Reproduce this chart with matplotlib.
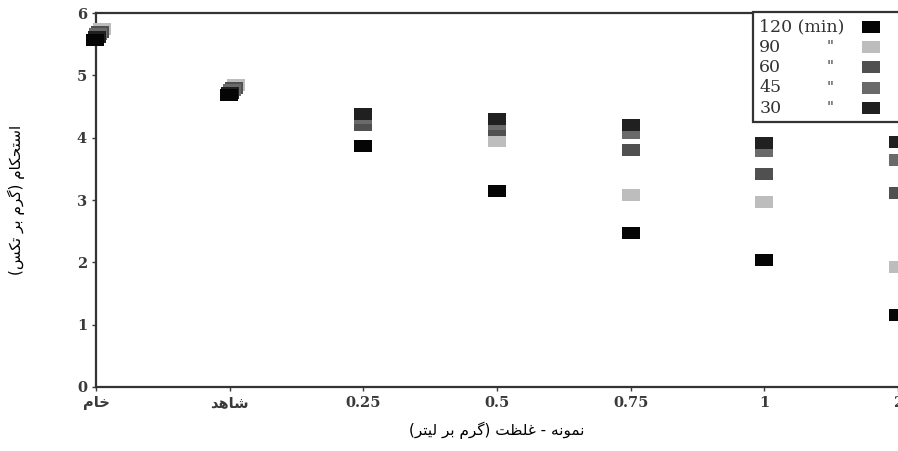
import matplotlib.pyplot as plt
from matplotlib.patches import Rectangle

# داده‌ها
categories = ['خام', 'شاهد', '0.25', '0.5', '0.75', '1', '2']
times = ['120', '90', '60', '45', '30']
strength = {
    '30':  [5.62, 4.72, 4.38, 4.30, 4.20, 3.92, 3.93],
    '45':  [5.66, 4.76, 4.32, 4.22, 4.07, 3.78, 3.65],
    '60':  [5.70, 4.80, 4.20, 4.12, 3.80, 3.42, 3.12],
    '90':  [5.75, 4.85, 4.20, 3.95, 3.08, 2.97, 1.92],
    '120': [5.57, 4.68, 3.87, 3.15, 2.47, 2.03, 1.15],
}
colors = {'120': '#050505', '90': '#bdbdbd', '60': '#505050',
          '45': '#6a6a6a', '30': '#202020'}
# جابه‌جایی کوچک افقی برای دو دسته‌ی اول (نقاط روی هم افتاده)
shift = {'120': -0.005, '30': 0.005, '45': 0.015, '60': 0.03, '90': 0.045}

y_label = 'استحکام (گرم بر تکس)'
x_label = 'نمونه - غلظت (گرم بر لیتر)'

# شکل‌دهی ساده حروف فارسی (matplotlib خودش این کار را نمی‌کند)
FORMS = {
    'ا': ('\uFE8D', '\uFE8E', None, None),
    'ب': ('\uFE8F', '\uFE90', '\uFE91', '\uFE92'),
    'ت': ('\uFE95', '\uFE96', '\uFE97', '\uFE98'),
    'ح': ('\uFEA1', '\uFEA2', '\uFEA3', '\uFEA4'),
    'خ': ('\uFEA5', '\uFEA6', '\uFEA7', '\uFEA8'),
    'د': ('\uFEA9', '\uFEAA', None, None),
    'ر': ('\uFEAD', '\uFEAE', None, None),
    'س': ('\uFEB1', '\uFEB2', '\uFEB3', '\uFEB4'),
    'ش': ('\uFEB5', '\uFEB6', '\uFEB7', '\uFEB8'),
    'ظ': ('\uFEC5', '\uFEC6', '\uFEC7', '\uFEC8'),
    'غ': ('\uFECD', '\uFECE', '\uFECF', '\uFED0'),
    'ل': ('\uFEDD', '\uFEDE', '\uFEDF', '\uFEE0'),
    'م': ('\uFEE1', '\uFEE2', '\uFEE3', '\uFEE4'),
    'ن': ('\uFEE5', '\uFEE6', '\uFEE7', '\uFEE8'),
    'ه': ('\uFEE9', '\uFEEA', '\uFEEB', '\uFEEC'),
    'و': ('\uFEED', '\uFEEE', None, None),
    'ک': ('\uFB8E', '\uFB8F', '\uFB90', '\uFB91'),
    'گ': ('\uFB92', '\uFB93', '\uFB94', '\uFB95'),
    'ی': ('\uFBFC', '\uFBFD', '\uFBFE', '\uFBFF'),
}


def fa(text):
    out = []
    for i, ch in enumerate(text):
        if ch not in FORMS:
            out.append({'(': ')', ')': '('}.get(ch, ch))
            continue
        prev = text[i - 1] if i > 0 else ''
        nxt = text[i + 1] if i + 1 < len(text) else ''
        join_prev = prev in FORMS and FORMS[prev][2] is not None
        join_next = FORMS[ch][2] is not None and nxt in FORMS
        iso, fin, ini, med = FORMS[ch]
        if join_prev and join_next:
            out.append(med)
        elif join_prev:
            out.append(fin)
        elif join_next:
            out.append(ini)
        else:
            out.append(iso)
    return ''.join(reversed(out))


plt.rcParams['font.family'] = ['DejaVu Serif', 'DejaVu Sans']

fig = plt.figure(figsize=(8.98, 4.51), dpi=100)
ax = fig.add_axes([0.107, 0.142, 0.893, 0.829])

rect = [(-1.45, -1), (1.45, -1), (1.45, 1), (-1.45, 1)]
xs = list(range(len(categories)))
for t in ['90', '60', '45', '30', '120']:
    px = [x + shift[t] if x < 2 else x for x in xs]
    ax.plot(px, strength[t], linestyle='none', marker=rect, markersize=12.5,
            color=colors[t], markeredgewidth=0, clip_on=False, zorder=3)

ax.set_xlim(0, 6)
ax.set_ylim(0, 6)
ax.set_xticks(xs)
ax.set_xticklabels([fa(c) if not c[0].isdigit() else c for c in categories])
ax.set_yticks(range(7))
ax.tick_params(labelsize=10.5, colors='#3a3a3a', length=3, width=1)
for lab in ax.get_xticklabels() + ax.get_yticklabels():
    lab.set_fontweight('bold')

for s in ['left', 'top', 'bottom']:
    ax.spines[s].set_linewidth(1.6)
    ax.spines[s].set_color('#333333')
ax.spines['right'].set_visible(False)

ax.set_xlabel(fa(x_label), fontsize=11, family=['DejaVu Sans'], labelpad=8)
ax.set_ylabel(fa(y_label), fontsize=11, family=['DejaVu Sans'], labelpad=37)

# راهنما (دستی، متن چپ‌چین و نشانگر در سمت راست)
tr = ax.transAxes
box_x0, box_y0, box_y1 = 0.819, 0.71, 1.003
ax.add_patch(Rectangle((box_x0, box_y0), 0.3, box_y1 - box_y0, transform=tr,
                       facecolor='white', edgecolor='#333333', linewidth=1.6,
                       clip_on=False, zorder=5))
row_h = (box_y1 - box_y0 - 0.02) / len(times)
for i, t in enumerate(times):
    yy = box_y1 - 0.012 - row_h * (i + 0.5)
    ax.text(box_x0 + 0.008, yy, '120 (min)' if i == 0 else t, transform=tr,
            fontsize=12.5, color='#333333', va='center', ha='left', zorder=6)
    if i > 0:
        ax.text(0.915, yy, '"', transform=tr, fontsize=11, color='#333333',
                va='center', ha='center', zorder=6)
    ax.plot([0.966], [yy], transform=tr, linestyle='none', marker=rect,
            markersize=12.5, color=colors[t], markeredgewidth=0,
            clip_on=False, zorder=6)

fig.savefig('out.png', dpi=100)
